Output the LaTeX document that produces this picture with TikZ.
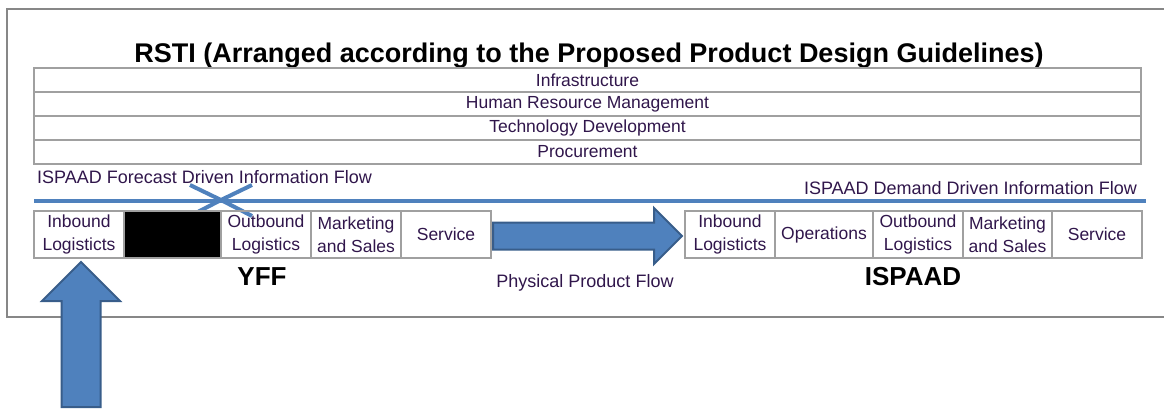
\documentclass[tikz,border=0pt]{standalone}
\usepackage{fontspec}
\setmainfont{Liberation Sans}
\usepackage{tikz}
\usetikzlibrary{positioning}

\definecolor{framegray}{RGB}{135,135,135}
\definecolor{cellgray}{RGB}{160,160,160}
\definecolor{inkpurple}{RGB}{48,22,75}
\definecolor{flowblue}{RGB}{79,129,189}
\definecolor{flowedge}{RGB}{56,93,138}

\tikzset{
  cell/.style={rectangle,draw=cellgray,line width=1.3pt,inner sep=0pt,outer sep=0pt,
    minimum width=90pt,minimum height=47pt,align=center,text=inkpurple,
    font=\fontsize{17.5}{23}\selectfont},
  support/.style={cell,minimum width=1107pt,minimum height=24pt},
  flowtext/.style={inner sep=0pt,text=inkpurple,font=\fontsize{18}{20}\selectfont},
  chainname/.style={inner sep=0pt,font=\bfseries\fontsize{26}{30}\selectfont},
  blockarrow/.style={draw=flowedge,fill=flowblue,line width=2pt},
  infoline/.style={flowblue,line width=4pt}
}

\begin{document}
\begin{tikzpicture}[x=1pt,y=-1pt]
    \useasboundingbox (0,0) rectangle (1164,410);
    \draw[framegray,line width=2pt] (7,9) rectangle (1180,317);

    \node[anchor=base,font=\bfseries\fontsize{27}{30}\selectfont] (title) at (589,62)
        {RSTI (Arranged according to the Proposed Product Design Guidelines)};

    % support activities
    \node[support,anchor=north west] (infra) at (34,68) {Infrastructure};
    \node[support,below=0pt of infra] (hrm) {Human Resource Management};
    \node[support,below=0pt of hrm] (tech) {Technology Development};
    \node[support,below=0pt of tech] (proc) {Procurement};

    % information flow
    \node[flowtext,anchor=base west] (fcast) at (37,183) {ISPAAD Forecast Driven Information Flow};
    \node[flowtext,anchor=base east] (demand) at (1137,194) {ISPAAD Demand Driven Information Flow};
    \coordinate (flowL) at (34,201);
    \coordinate (flowR) at (1146,201);
    \coordinate (meet) at (221,200);
    \draw[infoline] (flowL) -- (flowR);
    \draw[infoline] (190,185) -- (meet) -- (190,216);
    \draw[infoline] (252,185) -- (meet) -- (252,216);

    % YFF chain
    \node[cell,anchor=north west] (yin) at (34,211) {Inbound\\Logisticts};
    \node[cell,minimum width=97pt,fill=black,right=0pt of yin] (yops) {};
    \node[cell,right=0pt of yops] (yout) {Outbound\\Logistics};
    \node[cell,right=0pt of yout] (ymkt) {Marketing\\and Sales};
    \node[cell,right=0pt of ymkt] (yserv) {Service};

    % ISPAAD chain
    \node[cell,anchor=north west] (iin) at (685,211) {Inbound\\Logisticts};
    \node[cell,minimum width=98pt,right=0pt of iin] (iops) {Operations};
    \node[cell,right=0pt of iops] (iout) {Outbound\\Logistics};
    \node[cell,minimum width=89pt,right=0pt of iout] (imkt) {Marketing\\and Sales};
    \node[cell,right=0pt of imkt] (iserv) {Service};

    \node[chainname] (yff) at (262,277) {YFF};
    \node[chainname] (ispaad) at (913,277) {ISPAAD};

    % physical flow
    \coordinate (ppfTail) at ([xshift=2pt,yshift=-1.5pt]yserv.east);
    \coordinate (ppfTip) at ([xshift=-3pt,yshift=-1.5pt]iin.west);
    \draw[blockarrow] (ppfTail) ++(0,-13.5) -- ++(161,0) -- ++(0,-14.5) -- (ppfTip)
        -- ++(-28,28) -- ++(0,-14.5) -- ++(-161,0) -- cycle;
    \node[flowtext,anchor=base] (ppftext) at (585,287) {Physical Product Flow};

    \coordinate (inTip) at ([xshift=2pt,yshift=-4pt]yin.south);
    \draw[blockarrow] (inTip) -- ++(39,39) -- ++(-19.5,0) -- ++(0,106) -- ++(-39,0)
        -- ++(0,-106) -- ++(-19.5,0) -- cycle;
\end{tikzpicture}
\end{document}
